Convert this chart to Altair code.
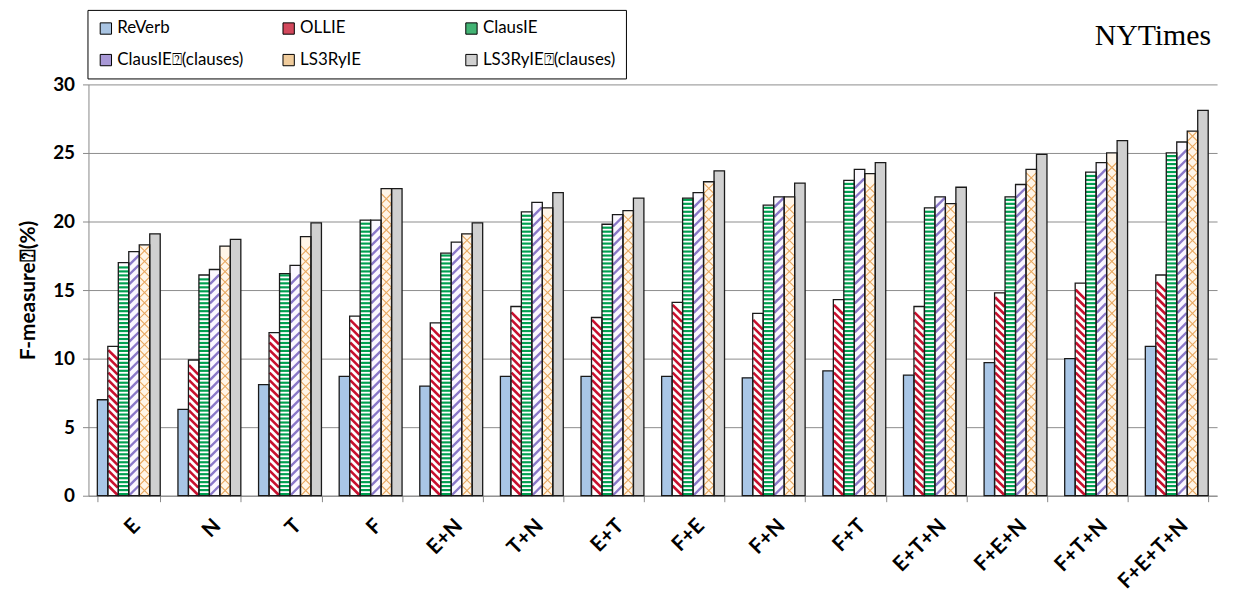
import altair as alt
import pandas as pd

categories = ["E", "N", "T", "F", "E+N", "T+N", "E+T", "F+E", "F+N", "F+T",
              "E+T+N", "F+E+N", "F+T+N", "F+E+T+N"]
series_names = ["ReVerb", "OLLIE", "ClausIE", "ClausIE\u2370(clauses)",
                "LS3RyIE", "LS3RyIE\u2370(clauses)"]

reverb = [7.0, 6.3, 8.1, 8.7, 8.0, 8.7, 8.7, 8.7, 8.6, 9.1, 8.8, 9.7, 10.0, 10.9]
ollie = [10.9, 9.9, 11.9, 13.1, 12.6, 13.8, 13.0, 14.1, 13.3, 14.3, 13.8, 14.8, 15.5, 16.1]
clausie = [17.0, 16.1, 16.2, 20.1, 17.7, 20.7, 19.8, 21.7, 21.2, 23.0, 21.0, 21.8, 23.6, 25.0]
clausie_cl = [17.8, 16.5, 16.8, 20.1, 18.5, 21.4, 20.5, 22.1, 21.8, 23.8, 21.8, 22.7, 24.3, 25.8]
ls3ryie = [18.3, 18.2, 18.9, 22.4, 19.1, 21.0, 20.8, 22.9, 21.8, 23.5, 21.3, 23.8, 25.0, 26.6]
ls3ryie_cl = [19.1, 18.7, 19.9, 22.4, 19.9, 22.1, 21.7, 23.7, 22.8, 24.3, 22.5, 24.9, 25.9, 28.1]

title_text = ["NYTimes"]

legend_colors = ["#a9c4e2", "#d2485c", "#43b374", "#a898d6", "#f0cc9c", "#d0d0d0"]
fill_colors = ["#a9c6e6", "#ffffff", "#ffffff", "#fbf8ff", "#fff5e8", "#d0d0d0"]

rows = []
for name, vals in zip(series_names, [reverb, ollie, clausie, clausie_cl, ls3ryie, ls3ryie_cl]):
    for c, v in zip(categories, vals):
        rows.append({"category": c, "series": name, "value": v})
df = pd.DataFrame(rows)

FONT = "Lato"

x_enc = alt.X("category:N", sort=categories,
              scale=alt.Scale(paddingInner=0.22, paddingOuter=0.11),
              axis=alt.Axis(title=None, labelAngle=-45, labelFont=FONT, labelFontSize=21,
                            labelFontWeight="bold", labelColor="black", labelPadding=13,
                            tickBand="extent", tickSize=6, tickColor="#888888",
                            domainColor="#888888", grid=False))
xo_enc = alt.XOffset("series:N", sort=series_names,
                     scale=alt.Scale(domain=series_names, paddingInner=0, paddingOuter=0))
y_enc = alt.Y("value:Q", scale=alt.Scale(domain=[0, 30]),
              axis=alt.Axis(title="F-measure\u2370(%)", values=[0, 5, 10, 15, 20, 25, 30],
                            labelFont=FONT, labelFontSize=19, labelFontWeight="bold",
                            labelColor="black", labelPadding=8, tickSize=6,
                            tickColor="#888888", domainColor="#888888",
                            gridColor="#8c8c8c", gridWidth=1,
                            titleFont=FONT, titleFontSize=21, titleFontWeight="bold",
                            titleColor="black", titlePadding=14))

base = alt.Chart(df)

legend_layer = base.mark_bar().encode(
    x=x_enc, xOffset=xo_enc, y=y_enc,
    color=alt.Color("series:N", sort=series_names,
                    scale=alt.Scale(domain=series_names, range=legend_colors),
                    legend=alt.Legend(title=None, orient="none", legendX=-1, legendY=-75,
                                      direction="horizontal",
                                      columns=3, gridAlign="all", columnPadding=30,
                                      rowPadding=14, padding=10, strokeColor="black",
                                      fillColor="white", labelFont=FONT, labelFontSize=17,
                                      labelColor="black", symbolType="square",
                                      symbolSize=130, symbolStrokeColor="black",
                                      symbolStrokeWidth=1, symbolOpacity=1,
                                      labelLimit=400, labelOffset=3)),
)

bg_layer = base.mark_bar().encode(
    x=x_enc, xOffset=xo_enc, y=y_enc,
    fill=alt.Fill("series:N", sort=series_names,
                  scale=alt.Scale(domain=series_names, range=fill_colors), legend=None),
)


def stripes(name, start, end_off, step, path, color, width, size):
    return base.transform_filter(
        alt.FieldEqualPredicate(field="series", equal=name)
    ).transform_calculate(
        value=f"sequence({start}, datum.value - {end_off}, {step})"
    ).transform_flatten(["value"]).mark_point(
        shape=path, filled=False, stroke=color, strokeWidth=width, size=size, opacity=1
    ).encode(
        x=x_enc, xOffset=xo_enc, y=y_enc,
    )


DIAG_DOWN = "M -0.9 -0.9 L 0.9 0.9"
DIAG_UP = "M -0.9 0.9 L 0.9 -0.9"
HORIZ = "M -1 0 L 1 0"
CROSS = "M -1 -1 L 1 1 M -1 1 L 1 -1"

red_layer = stripes(series_names[1], 0.38, 0.38, 0.55, DIAG_DOWN, "#c8102e", 2.6, 112)
green_layer = stripes(series_names[2], 0.12, 0.08, 0.29, HORIZ, "#00a050", 2.2, 112)
purple_layer = stripes(series_names[3], 0.38, 0.38, 0.7, DIAG_UP, "#8a78c8", 2.4, 112)
orange_layer = stripes(series_names[4], 0.38, 0.38, 0.76, CROSS, "#e8a860", 1.1, 112)

outline_layer = base.mark_bar(fill="transparent", stroke="#1a1a1a", strokeWidth=1.3).encode(
    x=x_enc, xOffset=xo_enc, y=y_enc,
)

title_layer = alt.Chart(pd.DataFrame({"t": title_text})).mark_text(
    font="Liberation Serif", fontSize=30, color="black", align="right", baseline="alphabetic"
).encode(text="t:N", x=alt.value(1130), y=alt.value(-40))

chart = alt.layer(
    legend_layer, bg_layer, red_layer, green_layer, purple_layer, orange_layer,
    outline_layer, title_layer
).properties(
    width=1136, height=414,
    padding={"left": 81, "top": 75, "right": 10, "bottom": 95},
    autosize=alt.AutoSizeParams(type="none"),
).configure_view(stroke=None)

chart.save("out.html", embed_options={"renderer": "svg", "actions": False})
